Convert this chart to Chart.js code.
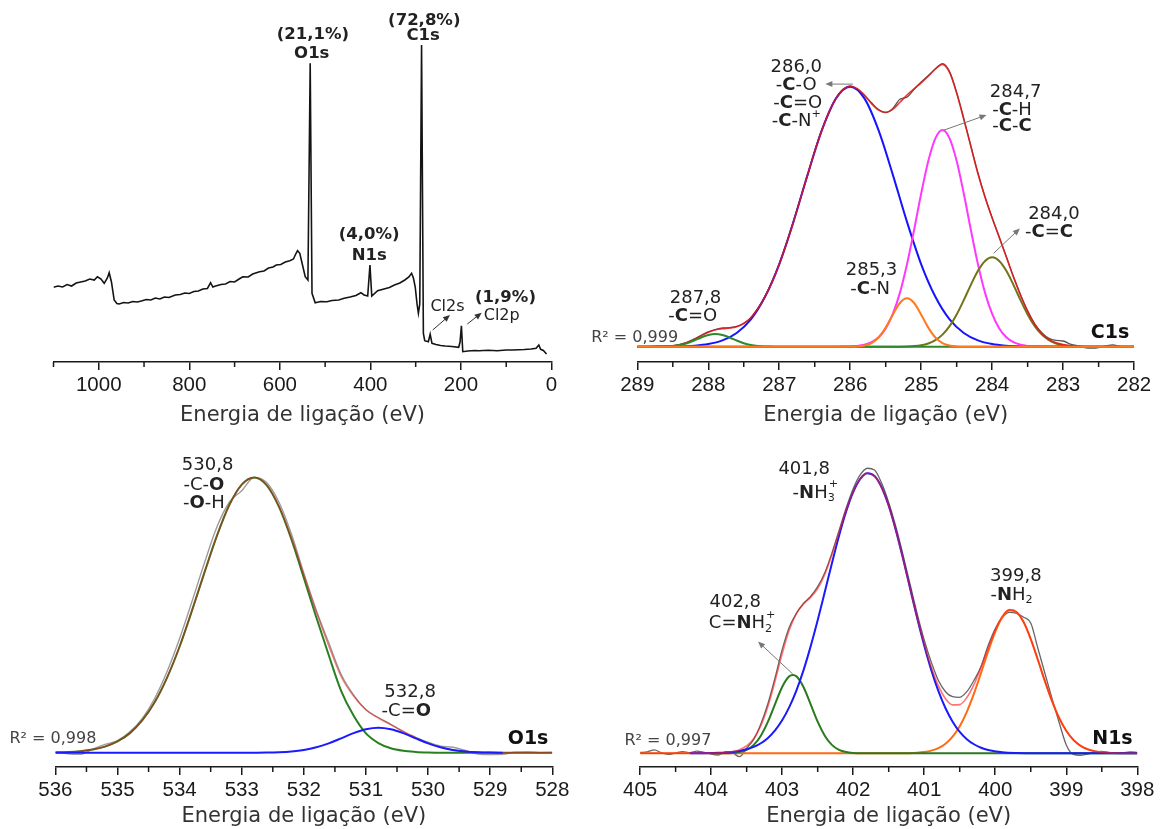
<!DOCTYPE html>
<html>
<head>
<meta charset="utf-8">
<script src="https://cdn.jsdelivr.net/npm/chart.js@4.4.1/dist/chart.umd.min.js"></script>
<style>
  html, body { margin: 0; background: #fff; overflow: hidden; }
  #wrap { position: relative; width: 1164px; height: 829px; background: #fff; }
  canvas { position: absolute; }
</style>
</head>
<body>
<div id="wrap">
  <canvas id="survey" width="582" height="430" style="left:0;top:0"></canvas>
  <canvas id="c1s" width="582" height="430" style="left:582px;top:0"></canvas>
  <canvas id="o1s" width="582" height="409" style="left:0;top:420px"></canvas>
  <canvas id="n1s" width="582" height="409" style="left:582px;top:420px"></canvas>
</div>
<script>
// ---- survey spectrum: [binding energy eV, intensity a.u.]
const surveyPoints = [
  [1100,74.7],[1090,76],[1080,75],[1070,77.5],[1060,76],[1050,79],[1040,80],[1030,81],[1020,83],[1010,82],
  [1003,85.3],[995,83],[988,78.7],[981,84],[977,89.3],[972,80],[966,62],[960,58.5],[955,58],[945,59.5],
  [935,59],[925,60.5],[915,60],[906,61],[895,62.5],[885,62],[875,64],[865,63],[855,65],[845,64.5],
  [831,67],[820,67.5],[810,69],[800,68.5],[790,70.5],[780,71],[770,73],[760,73.5],[753,79.3],[748,75],
  [742,76],[730,77.5],[720,78],[710,80.5],[700,80],[690,83],[682,85.3],[670,85],[660,88],[645,90.3],
  [635,91],[625,94],[615,95],[608,97],[598,97.5],[588,100],[578,101.3],[570,103],[565,108],[561,111.3],
  [556,108.7],[550,97],[544,85.3],[538,82],[533,298.7],[529,68.7],[522,59.3],[510,60.5],[496,60.3],[485,61.5],
  [470,62],[458,63.7],[445,65],[432,66.5],[421,69.3],[414,67],[406,66],[401,97],[397,66],[384,71.3],
  [370,73],[358,74.5],[347,77],[335,79],[324,82],[315,85],[309,88.7],[305,84],[301,75],[297,58],
  [294,48.7],[291,58],[287,317],[283,28.7],[280,21.3],[272,20.3],[268,27.7],[264,18.7],[255,17.5],[245,16.5],
  [235,16],[220,15.5],[205,14.7],[202,20],[199,36.3],[196,10.3],[185,11],[170,11.5],[160,11.3],[140,11.8],
  [120,11.2],[100,12],[86,12],[60,12.5],[45,13],[34,13.7],[28,17],[24,12.7],[18,11.5],[11,8]
];
const surveyTicks = [1000, 800, 600, 400, 200, 0];
const surveyMinor = [1100, 900, 700, 500, 300, 100];

// ---- C1s high resolution
const c1sEnergy = [
  289.0,288.9,288.8,288.7,288.6,288.5,288.4,288.3,288.2,288.1,
  288.0,287.9,287.8,287.7,287.6,287.5,287.4,287.3,287.2,287.1,
  287.0,286.9,286.8,286.7,286.6,286.5,286.4,286.3,286.2,286.1,
  286.0,285.9,285.8,285.7,285.6,285.5,285.4,285.3,285.2,285.1,
  285.0,284.9,284.8,284.7,284.6,284.5,284.4,284.3,284.2,284.1,
  284.0,283.9,283.8,283.7,283.6,283.5,283.4,283.3,283.2,283.1,
  283.0,282.9,282.8,282.7,282.6,282.5,282.4,282.3,282.2,282.1,
  282.0
];
const c1sMeasured = [
  0,-0.2,0.1,0.2,0.1,0.3,0.9,1.7,2.9,4.4,
  5.7,6.6,7.2,7.3,7.8,9.0,11.2,14.8,19.5,25.2,
  32.0,39.6,48.3,57.2,66.0,75.3,83.5,90.0,95.6,99.0,
  100.3,99.0,96.6,93.8,91.2,90.0,91.6,95.2,96.0,99.0,
  101.8,104.3,106.9,108.9,105.8,97.8,87.8,77.2,66.8,57.6,
  49.6,42.2,34.6,27.0,20.0,13.8,8.8,5.4,3.2,2.4,
  2.2,1.0,0.4,-0.3,-0.5,-0.3,0.3,0.7,0.1,0,
  0.1
];
const c1sEnvelope = [
  0,0,0,0.05,0.14,0.35,0.79,1.59,2.78,4.19,
  5.53,6.49,6.95,7.19,7.69,8.92,11.16,14.67,19.3,24.93,
  31.7,39.5,48.0,57.0,66.2,75.1,83.2,90.2,95.5,98.94,
  100.1,99.2,96.8,93.5,91.0,90.2,91.3,94.0,96.8,99.2,
  101.5,104.0,106.8,108.6,105.5,97.5,87.5,77.0,66.5,57.5,
  49.5,42.0,34.5,26.8,19.8,13.6,8.6,5.1,2.8,1.5,
  0.8,0.4,0.15,0,0,0,0,0,0,0,
  0
];
const c1sCO = [ // 286,0  blue
  [289,0],[288.6,0.04],[288.4,0.13],[288.2,0.39],[288.0,1.01],[287.8,2.43],[287.6,5.30],[287.4,10.5],
  [287.2,19.2],[287.0,31.7],[286.8,48.0],[286.6,66.2],[286.4,83.2],[286.2,95.5],[286.0,100],[285.8,95.5],
  [285.6,83.2],[285.4,66.2],[285.2,48.0],[285.0,31.7],[284.8,19.2],[284.6,10.5],[284.4,5.30],[284.2,2.43],
  [284.0,1.01],[283.8,0.39],[283.6,0.13],[283.4,0.04],[282,0]
];
const c1sCH = [ // 284,7  magenta
  [289,0],[286.2,0],[286.1,0.04],[286.0,0.12],[285.9,0.32],[285.8,0.78],[285.7,1.76],[285.6,3.65],
  [285.5,7.04],[285.4,12.6],[285.3,20.7],[285.2,31.7],[285.1,44.9],[285.0,58.9],[284.9,71.4],[284.8,80.1],
  [284.7,83.3],[284.6,80.1],[284.5,71.4],[284.4,58.9],[284.3,44.9],[284.2,31.7],[284.1,20.7],[284.0,12.6],
  [283.9,7.04],[283.8,3.65],[283.7,1.76],[283.6,0.78],[283.5,0.32],[283.4,0.12],[283.3,0.04],[283.2,0],[282,0]
];
const c1sCC = [ // 284,0  olive
  [289,0],[285.4,0],[285.3,0.03],[285.2,0.1],[285.1,0.25],[285.0,0.58],[284.9,1.26],[284.8,2.52],
  [284.7,4.64],[284.6,7.91],[284.5,12.4],[284.4,17.9],[284.3,23.8],[284.2,29.2],[284.1,33.0],[284.0,34.4],
  [283.9,33.0],[283.8,29.2],[283.7,23.8],[283.6,17.9],[283.5,12.4],[283.4,7.91],[283.3,4.64],[283.2,2.52],
  [283.1,1.26],[283.0,0.58],[282.9,0.25],[282.8,0.1],[282.7,0.03],[282.6,0],[282,0]
];
const c1sCN = [ // 285,3  orange
  [289,0],[286.1,0],[286.0,0.02],[285.9,0.12],[285.8,0.45],[285.7,1.41],[285.6,3.55],[285.5,7.35],
  [285.4,12.3],[285.3,16.8],[285.2,18.6],[285.1,16.8],[285.0,12.3],[284.9,7.35],[284.8,3.55],[284.7,1.41],
  [284.6,0.45],[284.5,0.12],[284.4,0.02],[284.3,0],[282,0]
];
const c1sCdO = [ // 287,8  green
  [289,0],[288.8,0],[288.7,0.03],[288.6,0.1],[288.5,0.27],[288.4,0.66],[288.3,1.36],[288.2,2.39],
  [288.1,3.56],[288.0,4.52],[287.9,4.9],[287.8,4.52],[287.7,3.56],[287.6,2.39],[287.5,1.36],[287.4,0.66],
  [287.3,0.27],[287.2,0.1],[287.1,0.03],[287.0,0],[282,0]
];
const c1sTicks = [289, 288, 287, 286, 285, 284, 283, 282];
const c1sMinor = [288.5, 287.5, 286.5, 285.5, 284.5, 283.5, 282.5];

// ---- O1s high resolution
const o1sEnergy = [
  536.0,535.8,535.6,535.4,535.2,535.0,534.8,534.6,534.4,534.2,
  534.0,533.8,533.6,533.4,533.2,533.0,532.8,532.6,532.4,532.2,
  532.0,531.8,531.6,531.4,531.2,531.0,530.8,530.6,530.4,530.2,
  530.0,529.8,529.6,529.4,529.2,529.0,528.8,528.6,528.4,528.2,
  528.0
];
const o1sMeasured = [
  0.3,-0.4,-0.6,1.3,3.0,4.4,7.6,12.5,19.8,29.6,
  41.5,55,69,82,91,95.2,100,98.2,91,79.5,
  65.2,51.8,40,28.5,21,15.6,12.8,10.3,7.6,5.6,
  3.8,2.4,2.0,0.8,-0.5,-0.7,-0.6,0.2,0.3,0,
  0.1
];
const o1sEnvelope = [
  0.12,0.26,0.56,1.15,2.23,4.09,7.12,11.8,18.4,27.4,
  38.6,51.7,65.5,78.8,90.0,97.4,100.0,97.3,89.5,78.0,
  64.5,51.2,38.9,27.7,20.6,15.6,12.6,10.2,7.8,5.5,
  3.5,2.0,1.0,0.45,0.18,0.06,0.02,0,0,0,
  0
];
const o1sCOH = [ // 530,8 label  green
  [536,0.12],[535.8,0.26],[535.6,0.56],[535.4,1.15],[535.2,2.23],[535.0,4.09],[534.8,7.12],[534.6,11.8],
  [534.4,18.4],[534.2,27.4],[534.0,38.6],[533.8,51.7],[533.6,65.5],[533.4,78.8],[533.2,90.0],[533.0,97.4],
  [532.8,100],[532.6,97.2],[532.4,89.3],[532.2,77.5],[532.0,63.5],[531.8,49.2],[531.6,35.5],[531.4,22.5],
  [531.2,13.5],[531.0,7.0],[530.8,3.5],[530.6,1.6],[530.4,0.7],[530.2,0.3],[530.0,0.1],[529.8,0],[528,0]
];
const o1sCdO = [ // 532,8 label  blue
  [536,0],[533.0,0],[532.8,0.02],[532.6,0.06],[532.4,0.18],[532.2,0.45],[532.0,0.99],[531.8,1.96],
  [531.6,3.40],[531.4,5.23],[531.2,7.12],[531.0,8.55],[530.8,9.1],[530.6,8.55],[530.4,7.12],[530.2,5.23],
  [530.0,3.40],[529.8,1.96],[529.6,0.99],[529.4,0.45],[529.2,0.18],[529.0,0.06],[528.8,0]
];
const o1sTicks = [536, 535, 534, 533, 532, 531, 530, 529, 528];
const o1sMinor = [535.5, 534.5, 533.5, 532.5, 531.5, 530.5, 529.5, 528.5];

// ---- N1s high resolution
const n1sEnergy = [
  405.0,404.9,404.8,404.7,404.6,404.5,404.4,404.3,404.2,404.1,
  404.0,403.9,403.8,403.7,403.6,403.5,403.4,403.3,403.2,403.1,
  403.0,402.9,402.8,402.7,402.6,402.5,402.4,402.3,402.2,402.1,
  402.0,401.9,401.8,401.7,401.6,401.5,401.4,401.3,401.2,401.1,
  401.0,400.9,400.8,400.7,400.6,400.5,400.4,400.3,400.2,400.1,
  400.0,399.9,399.8,399.7,399.6,399.5,399.4,399.3,399.2,399.1,
  399.0,398.9,398.8,398.7,398.6,398.5,398.4,398.3,398.2,398.1,
  398.0
];
const n1sMeasured = [
  0.3,0.5,1.2,0.2,-0.4,0.1,0.6,0.2,0.8,0.3,
  -0.3,-0.6,0.5,0.2,-1.2,1.8,5.0,10.5,17.8,27.0,
  37.0,45.0,50.0,53.5,56.0,59.5,64.5,71.5,79.5,87.5,
  94.5,99.5,101.8,101.2,96.5,89.6,81.0,71.0,60.5,50.0,
  40.5,32.5,26.0,22.0,20.2,20.0,22.0,26.0,31.0,38.5,
  44.5,48.5,50.3,50.0,48.6,46.5,37.5,28.5,19.5,11.0,
  3.0,-0.4,-0.7,-0.3,0.5,0.7,0.3,0.1,0.2,0.5,
  0.3
];
const n1sEnvelope = [
  0,0,0,0,0,0,0,0.01,0.02,0.04,
  0.08,0.16,0.31,0.63,1.3,2.66,5.3,9.9,16.8,25.8,
  35.5,44.0,49.9,53.3,55.7,58.8,63.9,70.8,78.8,86.7,
  93.4,98.0,100,99.0,95.0,88.4,79.7,69.7,59.0,48.6,
  39.0,30.7,24.1,19.5,17.3,17.4,19.9,24.5,30.7,37.6,
  44.1,49.0,51.3,50.5,46.9,40.8,33.4,25.7,18.6,12.6,
  8.03,4.8,2.71,1.43,0.71,0.33,0.14,0.06,0.02,0.01,
  0
];
const n1sNH3 = [ // 401,8  blue
  [404.3,0],[404.1,0.04],[403.9,0.16],[403.7,0.5],[403.6,0.86],[403.5,1.43],[403.4,2.3],[403.3,3.6],
  [403.2,5.5],[403.1,8.2],[403.0,11.8],[402.9,16.5],[402.8,22.4],[402.7,29.6],[402.6,38.1],[402.5,47.5],
  [402.4,57.6],[402.3,67.8],[402.2,77.6],[402.1,86.3],[402.0,93.3],[401.9,98.0],[401.8,100],[401.7,99.0],
  [401.6,95.0],[401.5,88.4],[401.4,79.7],[401.3,69.7],[401.2,59.0],[401.1,48.4],[401.0,38.5],[400.9,29.7],
  [400.8,22.2],[400.7,16.1],[400.6,11.3],[400.5,7.67],[400.4,5.05],[400.3,3.23],[400.2,2.0],[400.1,1.2],
  [399.9,0.39],[399.7,0.11],[399.4,0.01],[398,0]
];
const n1sCNH2 = [ // 402,8  green
  [404.0,0],[403.8,0.03],[403.7,0.13],[403.6,0.44],[403.5,1.23],[403.4,3.0],[403.3,6.3],[403.2,11.3],
  [403.1,17.6],[403.0,23.7],[402.9,27.5],[402.85,28],[402.8,27.5],[402.7,23.7],[402.6,17.6],[402.5,11.3],
  [402.4,6.3],[402.3,3.0],[402.2,1.23],[402.1,0.44],[402.0,0.13],[401.9,0.03],[401.7,0],[398,0]
];
const n1sNH2 = [ // 399,8  orange
  [405,0],[401.3,0],[401.1,0.2],[401.0,0.45],[400.9,0.95],[400.8,1.86],[400.7,3.43],[400.6,5.95],
  [400.5,9.69],[400.4,14.8],[400.3,21.3],[400.2,28.7],[400.1,36.4],[400.0,43.4],[399.9,48.6],[399.8,51.1],
  [399.7,50.4],[399.6,46.8],[399.5,40.8],[399.4,33.4],[399.3,25.7],[399.2,18.6],[399.1,12.6],[399.0,8.03],
  [398.9,4.8],[398.8,2.71],[398.7,1.43],[398.6,0.71],[398.5,0.33],[398.4,0.14],[398.3,0.06],[398.2,0.02],[398,0]
];
const n1sTicks = [405, 404, 403, 402, 401, 400, 399, 398];
const n1sMinor = [404.5, 403.5, 402.5, 401.5, 400.5, 399.5, 398.5];

const AXIS_TITLE = 'Energia de ligação (eV)';
const INK = '#1a1a1a';
const TEXT = '#222222';

const fromGrid = (energy, values) => energy.map((e, i) => ({ x: e, y: values[i] }));
const fromPairs = pairs => pairs.map(([x, y]) => ({ x, y }));

function curve(label, data, color, width) {
  return {
    label, data, showLine: true, borderColor: color, borderWidth: width,
    pointRadius: 0, fill: false, cubicInterpolationMode: 'monotone'
  };
}

// text with bold / sub / sup pieces
function richText(ctx, note, px, py, defSize) {
  const size = note.size || defSize;
  const family = note.family || 'DejaVu Sans';
  const pieces = note.parts.map(([t, s = '']) => {
    const small = s === 'sub' || s === 'sup' || s === 'supx';
    const font = (s === 'b' ? 'bold ' : '') + (small ? size * 0.62 : size) + 'px "' + family + '"';
    ctx.font = font;
    return { t, s, font, w: ctx.measureText(t).width };
  });
  let total = 0, prevW = 0;
  pieces.forEach(p => {
    if (p.s === 'supx') total += Math.max(0, p.w - prevW);
    else { total += p.w; prevW = p.w; }
  });
  let x = note.align === 'left' ? px : px - total / 2;
  let lastX = x;
  ctx.fillStyle = note.color || TEXT;
  ctx.textAlign = 'left';
  ctx.textBaseline = 'middle';
  pieces.forEach(p => {
    ctx.font = p.font;
    let dx = x, dy = py;
    if (p.s === 'sub') dy += size * 0.3;
    if (p.s === 'sup') dy -= size * 0.42;
    if (p.s === 'supx') { dx = lastX + 1; dy -= size * 0.48; }
    ctx.fillText(p.t, dx, dy);
    if (p.s === 'supx') x = Math.max(x, dx + p.w);
    else { lastX = x; x += p.w; }
  });
}

function arrow(ctx, x1, y1, x2, y2, color) {
  const a = Math.atan2(y2 - y1, x2 - x1), h = 7, w = 3;
  ctx.strokeStyle = color; ctx.fillStyle = color; ctx.lineWidth = 1;
  ctx.beginPath();
  ctx.moveTo(x1, y1);
  ctx.lineTo(x2 - h * 0.7 * Math.cos(a), y2 - h * 0.7 * Math.sin(a));
  ctx.stroke();
  ctx.beginPath();
  ctx.moveTo(x2, y2);
  ctx.lineTo(x2 - h * Math.cos(a) + w * Math.sin(a), y2 - h * Math.sin(a) - w * Math.cos(a));
  ctx.lineTo(x2 - h * Math.cos(a) - w * Math.sin(a), y2 - h * Math.sin(a) + w * Math.cos(a));
  ctx.closePath();
  ctx.fill();
}

function decorations(p) {
  return {
    id: 'xpsDecor',
    afterDraw(chart) {
      const ctx = chart.ctx, xs = chart.scales.x, ys = chart.scales.y;
      const bottom = chart.chartArea.bottom;
      ctx.save();
      ctx.strokeStyle = INK;
      ctx.lineWidth = 1.5;
      p.minor.forEach(v => {
        const x = xs.getPixelForValue(v);
        ctx.beginPath(); ctx.moveTo(x, bottom); ctx.lineTo(x, bottom + 5); ctx.stroke();
      });
      (p.arrows || []).forEach(a => arrow(ctx,
        xs.getPixelForValue(a[0]), ys.getPixelForValue(a[1]),
        xs.getPixelForValue(a[2]), ys.getPixelForValue(a[3]), p.arrowColor));
      p.notes.forEach(n => richText(ctx, n, xs.getPixelForValue(n.x), ys.getPixelForValue(n.y), p.noteSize));
      ctx.restore();
    }
  };
}

function drawPanel(id, p) {
  return new Chart(document.getElementById(id), {
    type: 'scatter',
    data: { datasets: p.datasets },
    options: {
      responsive: false,
      animation: false,
      layout: { padding: p.padding },
      plugins: { legend: { display: false }, tooltip: { enabled: false } },
      elements: { point: { radius: 0 } },
      scales: {
        x: {
          type: 'linear', reverse: true, min: p.xMin, max: p.xMax,
          afterBuildTicks: s => { s.ticks = p.ticks.map(v => ({ value: v })); },
          afterFit: s => { s.height = p.axisHeight; },
          border: { display: true, color: INK, width: 1.5 },
          grid: { drawOnChartArea: false, drawTicks: true, tickLength: 8, color: INK, lineWidth: 1.5 },
          ticks: {
            padding: 3.5, color: INK, maxRotation: 0, autoSkip: false,
            font: { family: 'Liberation Sans', size: 20.5 },
            callback: v => String(v)
          },
          title: {
            display: true, text: AXIS_TITLE, color: '#333',
            font: { family: 'DejaVu Sans', size: 21 },
            padding: { top: 0, bottom: p.titlePad }
          }
        },
        y: { display: false, min: p.yMin, max: p.yMax }
      }
    },
    plugins: [decorations(p)]
  });
}

// ---- panel 1: survey
drawPanel('survey', {
  padding: { left: 53.5, right: 30.5, top: 10, bottom: 0 }, axisHeight: 68, titlePad: 2,
  xMin: 0, xMax: 1100, yMin: 0, yMax: 352,
  ticks: surveyTicks, minor: surveyMinor,
  datasets: [{
    label: 'survey', data: fromPairs(surveyPoints), showLine: true,
    borderColor: '#141414', borderWidth: 1.6, pointRadius: 0, tension: 0
  }],
  noteSize: 16.5, arrowColor: '#333',
  arrows: [[262.4, 32, 224.2, 47], [186, 38, 154.2, 49.3]],
  notes: [
    { x: 527, y: 327, parts: [['(21,1%)', 'b']] },
    { x: 529.5, y: 308.7, parts: [['O1s', 'b']] },
    { x: 281, y: 341.3, parts: [['(72,8%)', 'b']] },
    { x: 283.4, y: 326, parts: [['C1s', 'b']] },
    { x: 402.7, y: 127, parts: [['(4,0%)', 'b']] },
    { x: 402.7, y: 106, parts: [['N1s', 'b']] },
    { x: 229.7, y: 54.7, parts: [['Cl2s']], size: 16 },
    { x: 101.6, y: 64.7, parts: [['(1,9%)', 'b']] },
    { x: 110, y: 46.3, parts: [['Cl2p']], size: 16 }
  ]
});

// ---- panel 2: C1s
drawPanel('c1s', {
  padding: { left: 55.3, right: 29.9, top: 20, bottom: 0 }, axisHeight: 68, titlePad: 2,
  xMin: 282, xMax: 289, yMin: -5.88, yMax: 125.65,
  ticks: c1sTicks, minor: c1sMinor,
  datasets: [
    curve('-C-N', fromPairs(c1sCN), '#ff7a1f', 2),
    curve('-C=O', fromPairs(c1sCdO), '#2c8a2c', 2),
    curve('envelope', fromGrid(c1sEnergy, c1sEnvelope), 'rgba(232,22,22,0.85)', 1.6),
    curve('-C=C', fromPairs(c1sCC), '#737318', 2),
    curve('-C-H', fromPairs(c1sCH), '#ff38ff', 2),
    curve('-C-O', fromPairs(c1sCO), '#1414ff', 2),
    curve('measured', fromGrid(c1sEnergy, c1sMeasured), '#555555', 1.3)
  ],
  noteSize: 18, arrowColor: '#777',
  arrows: [[285.96, 101, 286.35, 101], [284.68, 83.3, 284.08, 89.1], [283.98, 35.9, 283.61, 45.5]],
  notes: [
    { x: 286.76, y: 107.4, parts: [['286,0']] },
    { x: 286.76, y: 100.7, parts: [['-'], ['C', 'b'], ['-O']] },
    { x: 286.74, y: 93.6, parts: [['-'], ['C', 'b'], ['=O']] },
    { x: 286.76, y: 86.5, parts: [['-'], ['C', 'b'], ['-N'], ['+', 'sup']] },
    { x: 283.67, y: 97.7, parts: [['284,7']] },
    { x: 283.72, y: 90.8, parts: [['-'], ['C', 'b'], ['-H']] },
    { x: 283.72, y: 84.9, parts: [['-'], ['C', 'b'], ['-'], ['C', 'b']] },
    { x: 283.13, y: 51, parts: [['284,0']] },
    { x: 283.2, y: 43.8, parts: [['-'], ['C', 'b'], ['='], ['C', 'b']] },
    { x: 285.7, y: 29.2, parts: [['285,3']] },
    { x: 285.72, y: 22.1, parts: [['-'], ['C', 'b'], ['-N']] },
    { x: 288.18, y: 18.6, parts: [['287,8']] },
    { x: 288.22, y: 11.5, parts: [['-'], ['C', 'b'], ['=O']] },
    { x: 289.65, y: 3.5, parts: [['R² = 0,999']], align: 'left', size: 16, color: '#444' },
    { x: 282.34, y: 5.2, parts: [['C1s', 'b']], size: 19, color: '#111' }
  ]
});

// ---- panel 3: O1s
drawPanel('o1s', {
  padding: { left: 55.4, right: 29.7, top: 25, bottom: 0 }, axisHeight: 62, titlePad: 0,
  xMin: 528, xMax: 536, yMin: -5.19, yMax: 111.8,
  ticks: o1sTicks, minor: o1sMinor,
  datasets: [
    curve('-C=O', fromPairs(o1sCdO), '#1a1aff', 2),
    curve('envelope', fromGrid(o1sEnergy, o1sEnvelope), 'rgba(225,30,30,0.55)', 1.5),
    curve('-C-O / -O-H', fromPairs(o1sCOH), '#2a7f20', 2),
    curve('measured', fromGrid(o1sEnergy, o1sMeasured), '#9c9c9c', 1.4)
  ],
  noteSize: 18, arrowColor: '#777',
  arrows: [],
  notes: [
    { x: 533.55, y: 104.5, parts: [['530,8']] },
    { x: 533.61, y: 97.0, parts: [['-C-'], ['O', 'b']] },
    { x: 533.61, y: 90.6, parts: [['-'], ['O', 'b'], ['-H']] },
    { x: 530.29, y: 21.9, parts: [['532,8']] },
    { x: 530.35, y: 14.9, parts: [['-C='], ['O', 'b']] },
    { x: 536.74, y: 4.9, parts: [['R² = 0,998']], align: 'left', size: 16, color: '#444' },
    { x: 528.39, y: 4.9, parts: [['O1s', 'b']], size: 19, color: '#111' }
  ]
});

// ---- panel 4: N1s
drawPanel('n1s', {
  padding: { left: 58.1, right: 26.7, top: 25, bottom: 0 }, axisHeight: 62, titlePad: 0,
  xMin: 398, xMax: 405, yMin: -4.89, yMax: 110.1,
  ticks: n1sTicks, minor: n1sMinor,
  datasets: [
    curve('envelope', fromGrid(n1sEnergy, n1sEnvelope), 'rgba(255,25,25,0.6)', 1.6),
    curve('-NH3+', fromPairs(n1sNH3), '#1a1aff', 2),
    curve('C=NH2+', fromPairs(n1sCNH2), '#2a7a1e', 2),
    curve('-NH2', fromPairs(n1sNH2), '#ff6a12', 2),
    curve('measured', fromGrid(n1sEnergy, n1sMeasured), '#666666', 1.3)
  ],
  noteSize: 18, arrowColor: '#777',
  arrows: [[402.85, 28.3, 403.34, 39.9]],
  notes: [
    { x: 402.69, y: 101.4, parts: [['401,8']] },
    { x: 402.54, y: 92.9, parts: [['-'], ['N', 'b'], ['H'], ['3', 'sub'], ['+', 'supx']] },
    { x: 399.71, y: 63.1, parts: [['399,8']] },
    { x: 399.77, y: 56.5, parts: [['-'], ['N', 'b'], ['H'], ['2', 'sub']] },
    { x: 403.66, y: 53.8, parts: [['402,8']] },
    { x: 403.57, y: 46.4, parts: [['C='], ['N', 'b'], ['H'], ['2', 'sub'], ['+', 'supx']] },
    { x: 405.22, y: 4.4, parts: [['R² = 0,997']], align: 'left', size: 16, color: '#444' },
    { x: 398.35, y: 5.0, parts: [['N1s', 'b']], size: 19, color: '#111' }
  ]
});
</script>
</body>
</html>
